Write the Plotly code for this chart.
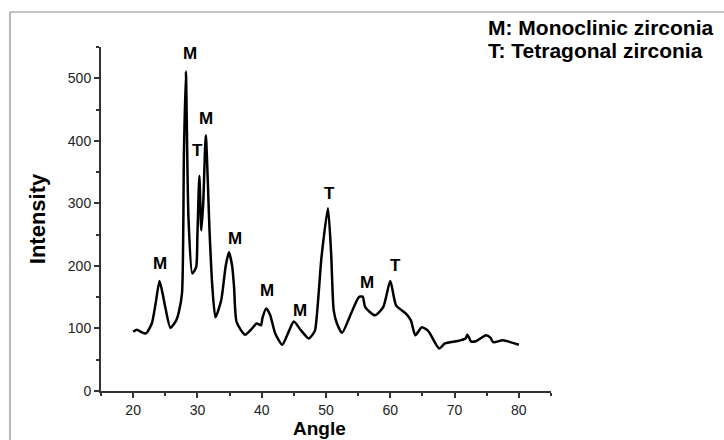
import plotly.graph_objects as go

# XRD pattern
angle = [20.0, 20.6, 21.3, 22.0, 22.9, 23.5, 24.1, 24.6, 25.0, 25.8, 26.7, 27.1, 27.6,
         27.9, 28.2, 28.6, 29.2, 29.8, 30.0, 30.3, 30.6, 30.9, 31.3, 31.9, 32.3, 32.8,
         33.7, 34.4, 34.9, 35.4, 35.7, 36.1, 37.4, 38.5, 39.2, 39.9, 40.1, 40.7, 41.3,
         42.1, 43.2, 44.2, 45.0, 46.1, 47.3, 47.9, 48.3, 49.3, 50.3, 50.8, 51.2, 51.7,
         52.5, 53.9, 55.1, 55.7, 56.1, 57.6, 58.9, 60.0, 60.9, 62.4, 63.2, 63.9, 64.9,
         65.9, 67.6, 68.5, 70.5, 71.7, 72.0, 72.6, 73.4, 74.9, 75.6, 76.0, 77.5, 80.0]
intensity = [95, 98, 94, 92, 108, 140, 176, 155, 134, 101, 113, 126, 156,
             380, 511, 279, 188, 198, 250, 344, 257, 300, 409, 252, 170, 118,
             145, 200, 222, 200, 166, 110, 90, 100, 108, 105, 116, 132, 122,
             92, 74, 95, 111, 97, 84, 90, 97, 214, 292, 220, 129, 108,
             93, 124, 150, 151, 134, 121, 134, 176, 137, 124, 113, 89, 102,
             96, 68, 76, 80, 84, 90, 79, 80, 89, 85, 78, 81, 74]

peak_x = [24.2, 28.9, 30.0, 31.3, 35.9, 40.8, 46.0, 50.5, 56.4, 60.8]
peak_y = [204, 539, 384, 436, 244, 161, 129, 315, 173, 201]
peak_label = ["M", "M", "T", "M", "M", "M", "M", "T", "M", "T"]

legend_lines = ["M: Monoclinic zirconia", "T: Tetragonal zirconia"]

x_title = "Angle"
y_title = "Intensity"

font = "Liberation Sans, Arial, sans-serif"

ML, MR, MT, MB = 101, 173, 47, 49
W, H = 724, 440
plot_w = W - ML - MR
plot_h = H - MT - MB


def px_to_paper_x(px):
    return (px - ML) / plot_w


def px_to_paper_y(py):
    return 1 - (py - MT) / plot_h


fig = go.Figure()
fig.add_trace(go.Scatter(
    x=angle, y=intensity, mode="lines",
    line=dict(color="black", width=2.5, shape="spline", smoothing=0.6),
    showlegend=False, hoverinfo="skip",
))

for px, py, lab in zip(peak_x, peak_y, peak_label):
    fig.add_annotation(x=px, y=py, text="<b>%s</b>" % lab, showarrow=False,
                       font=dict(family=font, size=17, color="black"))

for i, t in enumerate(legend_lines):
    fig.add_annotation(x=px_to_paper_x(486), y=px_to_paper_y(28 + 22 * i),
                       xref="paper", yref="paper", text="<b>%s</b>" % t,
                       showarrow=False, xanchor="left", yanchor="middle",
                       font=dict(family=font, size=21, color="black"))

# x-axis title, placed under the tick labels
fig.add_annotation(x=px_to_paper_x(319), y=px_to_paper_y(428), xref="paper", yref="paper",
                   text="<b>%s</b>" % x_title, showarrow=False,
                   xanchor="center", yanchor="middle", borderpad=0,
                   font=dict(family=font, size=19, color="black"))

axis_common = dict(
    showline=True, linecolor="#333", linewidth=2, mirror=False,
    ticks="outside", ticklen=5, tickwidth=1.5, tickcolor="#333",
    showgrid=False, zeroline=False, automargin=False,
    tickfont=dict(family=font, size=14, color="#222"),
)

fig.update_xaxes(range=[15, 85], tick0=0, dtick=10,
                 minor=dict(ticks="outside", ticklen=3, dtick=5, tickcolor="#333", tickwidth=1.5),
                 **axis_common)
fig.update_yaxes(range=[0, 550], tick0=0, dtick=100,
                 minor=dict(ticks="outside", ticklen=3, dtick=50, tickcolor="#333", tickwidth=1.5),
                 title=dict(text="<b>%s</b>" % y_title, font=dict(family=font, size=22, color="black"), standoff=16),
                 **axis_common)

# thin gray frame of the original figure (top and left edges)
top_y = px_to_paper_y(12)
left_x = px_to_paper_x(10)
fig.add_shape(type="line", xref="paper", yref="paper", x0=left_x, x1=px_to_paper_x(W),
              y0=top_y, y1=top_y, line=dict(color="#888", width=1.2))
fig.add_shape(type="line", xref="paper", yref="paper", x0=left_x, x1=left_x,
              y0=top_y, y1=px_to_paper_y(H), line=dict(color="#888", width=1.2))

fig.update_layout(
    width=W, height=H,
    margin=dict(l=ML, r=MR, t=MT, b=MB, autoexpand=False),
    paper_bgcolor="white", plot_bgcolor="white",
)

fig.write_html("out.html", config={"displayModeBar": False},
               post_script="document.body.style.margin='0';")
